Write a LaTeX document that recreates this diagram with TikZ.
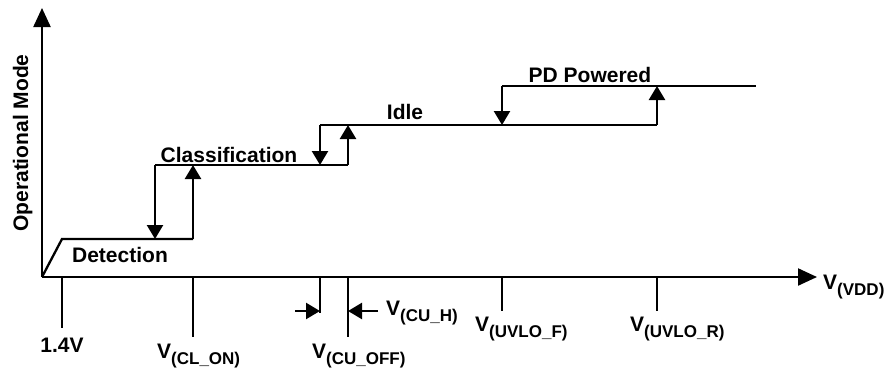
\documentclass[tikz,border=0pt]{standalone}
\usepackage{fontspec}
\setmainfont{Liberation Sans}
\usetikzlibrary{arrows.meta}
\newcommand\subtx[1]{\raisebox{-6pt}{\fontsize{17}{17}\selectfont\bfseries #1}}
\begin{document}
\begin{tikzpicture}[x=1pt,y=-1pt,
  line/.style={line width=2.3pt, draw=black},
  axisarrow/.style={line, -{Triangle[length=19pt,width=17pt]}},
  steparrow/.style={line, -{Triangle[length=14pt,width=16pt]}},
  lbl/.style={inner sep=0pt, font=\fontsize{21}{21}\selectfont\bfseries, anchor=base},
  vlbl/.style={inner sep=0pt, font=\fontsize{21}{21}\selectfont\bfseries, anchor=base west}]
\useasboundingbox (0,0) rectangle (889,368);
% axes
\coordinate (O) at (42,277);
\coordinate (Ytop) at (42,8);
\coordinate (Xend) at (817,277);
\draw[axisarrow] (O) -- (Ytop);
\draw[axisarrow] (O) -- (Xend);
% levels
\coordinate (D1) at (62,239);
\coordinate (D2) at (193,239);
\coordinate (Dd) at (155,239);
\coordinate (C1) at (155,165);
\coordinate (C2) at (193,165);
\coordinate (Cd) at (320,165);
\coordinate (C3) at (348,165);
\coordinate (I1) at (320,125);
\coordinate (I2) at (348,125);
\coordinate (Id) at (502,125);
\coordinate (I3) at (657,125);
\coordinate (P1) at (502,86);
\coordinate (P2) at (657,86);
\coordinate (P3) at (756,86);
\draw[line] (O) -- (D1) -- (D2);
\draw[steparrow] (D2) -- (C2);
\draw[line] (C1) -- (C3);
\draw[steparrow] (C1) -- (Dd);
\draw[steparrow] (I1) -- (Cd);
\draw[steparrow] (C3) -- (I2);
\draw[line] (I1) -- (I3);
\draw[steparrow] (P1) -- (Id);
\draw[steparrow] (I3) -- (P2);
\draw[line] (P1) -- (P3);
% ticks
\coordinate (T1a) at (62,277);  \coordinate (T1b) at (62,328);
\coordinate (T2a) at (193,277); \coordinate (T2b) at (193,337);
\coordinate (T3a) at (320,277); \coordinate (T3b) at (320,313);
\coordinate (T4a) at (348,277); \coordinate (T4b) at (348,337);
\coordinate (T5a) at (502,277); \coordinate (T5b) at (502,311);
\coordinate (T6a) at (657,277); \coordinate (T6b) at (657,311);
\draw[line] (T1a) -- (T1b);
\draw[line] (T2a) -- (T2b);
\draw[line] (T3a) -- (T3b);
\draw[line] (T4a) -- (T4b);
\draw[line] (T5a) -- (T5b);
\draw[line] (T6a) -- (T6b);
% hysteresis arrows
\coordinate (H1s) at (295,311); \coordinate (H1e) at (320,311);
\coordinate (H2s) at (378,311); \coordinate (H2e) at (348,311);
\draw[steparrow] (H1s) -- (H1e);
\draw[steparrow] (H2s) -- (H2e);
% labels
\node[lbl, rotate=90] (om) at (28,143) {Operational Mode};
\node[lbl] (det) at (120,262) {Detection};
\node[lbl] (cls) at (229,162) {Classification};
\node[lbl] (idle) at (405,119) {Idle};
\node[lbl] (pdp) at (590,82) {PD Powered};
\node[lbl] (v14) at (62,352) {1.4V};
\node[vlbl] (vcl) at (157,358) {V\subtx{(CL\_ON)}};
\node[vlbl] (vcuoff) at (312,358) {V\subtx{(CU\_OFF)}};
\node[vlbl] (vcuh) at (386,315) {V\subtx{(CU\_H)}};
\node[vlbl] (vuvf) at (475,331) {V\subtx{(UVLO\_F)}};
\node[vlbl] (vuvr) at (630,331) {V\subtx{(UVLO\_R)}};
\node[vlbl] (vdd) at (823,289) {V\subtx{(VDD)}};
\end{tikzpicture}
\end{document}
